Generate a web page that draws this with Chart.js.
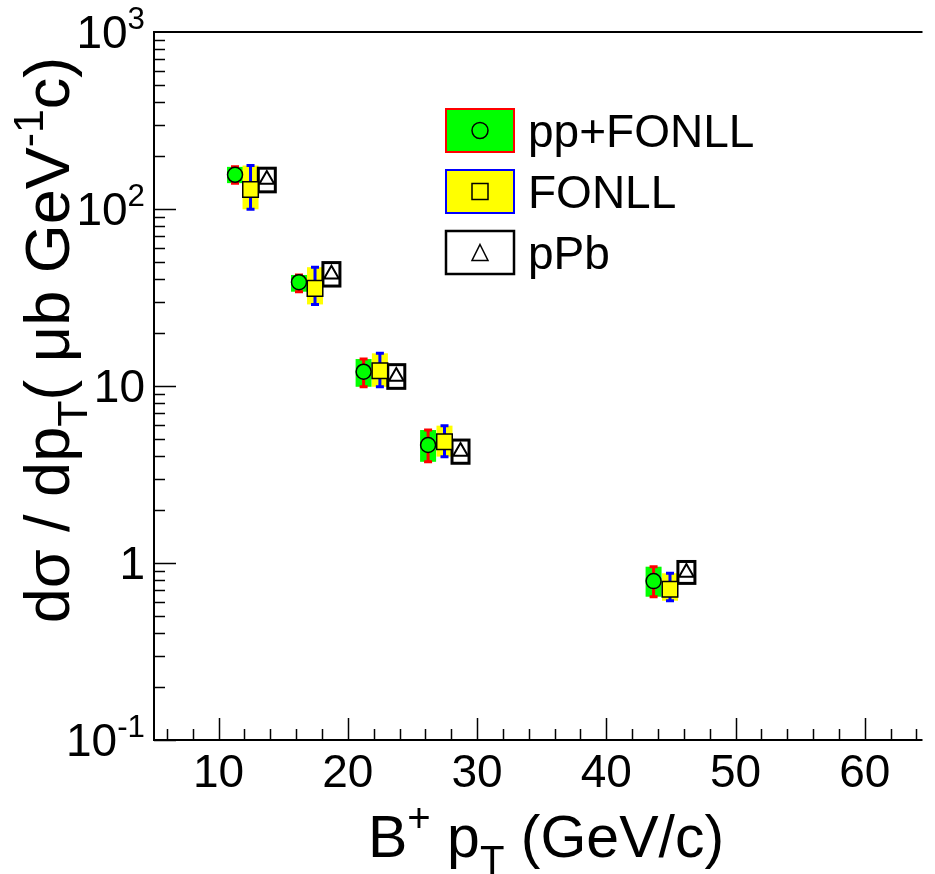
<!DOCTYPE html>
<html>
<head>
<meta charset="utf-8">
<script src="https://cdn.jsdelivr.net/npm/chart.js@4/dist/chart.umd.min.js"></script>
<style>
  html, body { margin: 0; padding: 0; background: #fff; overflow: hidden; }
</style>
</head>
<body>
<canvas id="c" width="935" height="874"></canvas>
<script>
// B+ pT spectrum: pp+FONLL reference, FONLL, pPb

// pp+FONLL (green box, red errors)
const ppX  = [11.27, 16.22, 21.22, 26.21, 43.66];
const ppY  = [156, 38.6, 12.05, 4.64, 0.79];
const ppLo = [140, 34.1, 9.9, 3.73, 0.645];
const ppHi = [173, 42.4, 14.2, 5.64, 0.953];

// FONLL (yellow box, blue errors)
const fonllX  = [12.47, 17.46, 22.48, 27.48, 44.93];
const fonllY  = [129, 35.6, 12.2, 4.84, 0.71];
const fonllLo = [99.6, 28.9, 9.9, 3.99, 0.612];
const fonllHi = [176, 46.9, 15.3, 5.97, 0.875];

// pPb (open box)
const ppbX  = [13.73, 18.73, 23.75, 28.72, 46.2];
const ppbY  = [147, 42.8, 11.3, 4.26, 0.884];
const ppbLo = [125, 36.7, 9.7, 3.66, 0.767];
const ppbHi = [170, 49.8, 13.2, 4.95, 1.02];

// axis ticks
const xMajor = [10, 20, 30, 40, 50, 60];
const yMajor = [0.1, 1, 10, 100, 1000];
const yLabels = [['10', '-1'], ['1', ''], ['10', ''], ['10', '2'], ['10', '3']];

const legendLabels = ['pp+FONLL', 'FONLL', 'pPb'];

const FONT = '"Liberation Sans", Arial, Helvetica, sans-serif';

function pts(xs, ys) {
  return xs.map((x, i) => ({ x: x, y: ys[i] }));
}

// text with sub/superscripts
function richWidth(ctx, parts, size) {
  let w = 0;
  parts.forEach(p => {
    const s = p.k ? size * 0.68 : size;
    ctx.font = s + 'px ' + FONT;
    w += ctx.measureText(p.t).width;
  });
  return w;
}
function drawRich(ctx, parts, x, y, size) {
  let cx = x;
  parts.forEach(p => {
    const s = p.k ? size * 0.68 : size;
    ctx.font = s + 'px ' + FONT;
    let dy = 0;
    if (p.k === 'sup') dy = -size * 0.42;
    if (p.k === 'sub') dy = size * 0.28;
    ctx.fillText(p.t, cx, y + dy);
    cx += ctx.measureText(p.t).width;
  });
}

const rootPlot = {
  id: 'rootPlot',
  beforeDatasetsDraw(chart) {
    const ctx = chart.ctx;
    const sx = chart.scales.x, sy = chart.scales.y;

    function boxes(xs, lo, hi, half, fill, edge, lw) {
      xs.forEach((x, i) => {
        const px = sx.getPixelForValue(x);
        const top = sy.getPixelForValue(hi[i]);
        const bot = sy.getPixelForValue(lo[i]);
        ctx.fillStyle = fill;
        ctx.fillRect(px - half, top, 2 * half, bot - top);
        if (edge) {
          ctx.strokeStyle = edge;
          ctx.lineWidth = lw;
          ctx.strokeRect(px - half, top, 2 * half, bot - top);
        }
      });
    }
    function errors(xs, lo, hi, color) {
      ctx.strokeStyle = color;
      ctx.lineWidth = 3;
      xs.forEach((x, i) => {
        const px = sx.getPixelForValue(x);
        const top = sy.getPixelForValue(hi[i]);
        const bot = sy.getPixelForValue(lo[i]);
        ctx.beginPath();
        ctx.moveTo(px, top); ctx.lineTo(px, bot);
        ctx.moveTo(px - 4, top); ctx.lineTo(px + 4, top);
        ctx.moveTo(px - 4, bot); ctx.lineTo(px + 4, bot);
        ctx.stroke();
      });
    }

    ctx.save();
    boxes(ppX, ppLo, ppHi, 8, '#00ff00', null, 0);
    errors(ppX, ppLo, ppHi, '#ff0000');
    boxes(fonllX, fonllLo, fonllHi, 8, '#ffff00', null, 0);
    errors(fonllX, fonllLo, fonllHi, '#0000ff');
    boxes(ppbX, ppbLo, ppbHi, 8.5, '#ffffff', '#000000', 3);
    ctx.restore();
  },
  afterDraw(chart) {
    const ctx = chart.ctx;
    const a = chart.chartArea;
    const sx = chart.scales.x, sy = chart.scales.y;
    ctx.save();
    ctx.fillStyle = '#000';
    ctx.strokeStyle = '#000';

    // frame (right side falls outside the picture)
    ctx.lineWidth = 2;
    ctx.beginPath();
    ctx.moveTo(a.right, a.top);
    ctx.lineTo(a.left, a.top);
    ctx.lineTo(a.left, a.bottom);
    ctx.lineTo(a.right, a.bottom);
    ctx.stroke();

    // x ticks (inside)
    ctx.lineWidth = 1.5;
    ctx.beginPath();
    for (let v = 6; v < 65; v += 2) {
      if (v > sx.max) break;
      const px = Math.round(sx.getPixelForValue(v)) + 0.5;
      const len = (v % 10 === 0) ? 22 : 11;
      ctx.moveTo(px, a.bottom);
      ctx.lineTo(px, a.bottom - len);
    }
    // y ticks (inside)
    for (let d = -1; d < 3; d++) {
      for (let m = 1; m < 10; m++) {
        const v = m * Math.pow(10, d);
        const py = Math.round(sy.getPixelForValue(v)) + 0.5;
        const len = m === 1 ? 22 : 11;
        ctx.moveTo(a.left, py);
        ctx.lineTo(a.left + len, py);
      }
    }
    ctx.stroke();

    // x tick labels
    ctx.font = '46px ' + FONT;
    ctx.textAlign = 'center';
    ctx.textBaseline = 'alphabetic';
    xMajor.forEach(v => {
      ctx.fillText(String(v), sx.getPixelForValue(v), a.bottom + 47);
    });

    // y tick labels with exponent
    ctx.textAlign = 'left';
    yMajor.forEach((v, i) => {
      const py = sy.getPixelForValue(v);
      const parts = [{ t: yLabels[i][0] }];
      if (yLabels[i][1]) parts.push({ t: yLabels[i][1], k: 'sup' });
      const w = richWidth(ctx, parts, 46);
      drawRich(ctx, parts, a.left - 9 - w, py + 16, 46);
    });

    // x title
    const xt = [{ t: 'B' }, { t: '+', k: 'sup' }, { t: ' p' }, { t: 'T', k: 'sub' }, { t: ' (GeV/c)' }];
    const xw = richWidth(ctx, xt, 59);
    drawRich(ctx, xt, 546 - xw / 2, 857, 59);

    // y title (rotated)
    const yt = [{ t: 'd\u03c3 / dp' }, { t: 'T', k: 'sub' }, { t: '( \u03bcb GeV' }, { t: '-1', k: 'sup' }, { t: 'c)' }];
    const yw = richWidth(ctx, yt, 63);
    ctx.save();
    ctx.translate(69, 340);
    ctx.rotate(-Math.PI / 2);
    drawRich(ctx, yt, -yw / 2, 0, 63);
    ctx.restore();

    // legend
    const rows = [109, 170, 231];
    const fills = ['#00ff00', '#ffff00', '#ffffff'];
    const edges = ['#ff0000', '#0000ff', '#000000'];
    rows.forEach((ry, i) => {
      ctx.fillStyle = fills[i];
      ctx.fillRect(446, ry, 68, 43);
      ctx.strokeStyle = edges[i];
      ctx.lineWidth = i === 2 ? 2.5 : 2;
      ctx.strokeRect(446, ry, 68, 43);
      const cx = 480, cy = ry + 21.5;
      ctx.strokeStyle = '#000';
      ctx.lineWidth = 1.5;
      ctx.beginPath();
      if (i === 0) {
        ctx.arc(cx, cy, 8, 0, Math.PI * 2);
      } else if (i === 1) {
        ctx.rect(cx - 8, cy - 8, 16, 16);
      } else {
        ctx.moveTo(cx, cy - 8);
        ctx.lineTo(cx + 8, cy + 8);
        ctx.lineTo(cx - 8, cy + 8);
        ctx.closePath();
      }
      ctx.stroke();
      ctx.fillStyle = '#000';
      ctx.font = '46px ' + FONT;
      ctx.textAlign = 'left';
      ctx.fillText(legendLabels[i], 528, cy + 16);
    });

    ctx.restore();
  }
};

new Chart(document.getElementById('c'), {
  type: 'scatter',
  data: {
    datasets: [
      {
        label: legendLabels[0], data: pts(ppX, ppY),
        pointStyle: 'circle', pointRadius: 7.5,
        backgroundColor: '#00ff00', borderColor: '#000', borderWidth: 1.5
      },
      {
        label: legendLabels[1], data: pts(fonllX, fonllY),
        pointStyle: 'rect', pointRadius: 11,
        backgroundColor: '#ffff00', borderColor: '#000', borderWidth: 1.5
      },
      {
        label: legendLabels[2], data: pts(ppbX, ppbY),
        pointStyle: 'triangle', pointRadius: 8.5,
        backgroundColor: '#ffffff', borderColor: '#000', borderWidth: 2
      }
    ]
  },
  options: {
    responsive: false,
    animation: false,
    devicePixelRatio: 1,
    layout: { padding: { left: 154, top: 32, right: 0, bottom: 134 } },
    scales: {
      // the frame runs to x = 65 just past the right edge of the picture
      x: { type: 'linear', min: 5, max: 64.47, display: false },
      y: { type: 'logarithmic', min: 0.1, max: 1000, display: false }
    },
    plugins: { legend: { display: false }, tooltip: { enabled: false } }
  },
  plugins: [rootPlot]
});
</script>
</body>
</html>
